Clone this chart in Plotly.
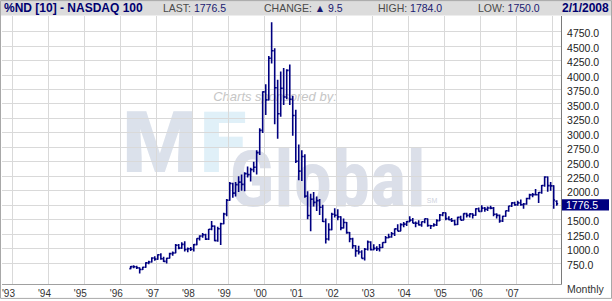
import plotly.graph_objects as go
import pandas as pd

# ---------------- data (monthly OHLC, Apr 1996 - Feb 2008) ----------------
opens = [
    655, 690, 688, 668, 640, 680, 755, 770, 840,                      # 1996 Apr-Dec
    820, 895, 825, 780, 835, 915, 925, 1060, 1010, 1075, 985, 1000,    # 1997
    990, 1070, 1175, 1220, 1240, 1165, 1335, 1390, 1140, 1345, 1430, 1600,  # 1998
    1836, 2127, 1960, 2106, 2150, 2110, 2296, 2280, 2365, 2407, 2660, 3044,  # 1999
    3708, 3570, 4290, 4420, 3780, 3330, 3770, 3620, 4080, 3580, 3300, 2510,  # 2000
    2340, 2593, 1908, 1573, 1855, 1799, 1830, 1716, 1469, 1168, 1329, 1596,  # 2001
    1577, 1550, 1359, 1452, 1277, 1170, 1051, 962, 942, 832, 989, 1116,      # 2002
    984, 1005, 1000, 1020, 1106, 1190, 1201, 1257, 1343, 1303, 1416, 1424,   # 2003
    1468, 1494, 1442, 1439, 1411, 1466, 1516, 1401, 1397, 1412, 1485, 1583,  # 2004
    1621, 1519, 1500, 1483, 1418, 1540, 1494, 1605, 1576, 1601, 1578, 1689,  # 2005
    1645, 1700, 1680, 1703, 1700, 1596, 1575, 1479, 1561, 1654, 1737, 1792,  # 2006
    1757, 1792, 1758, 1772, 1867, 1930, 1934, 1932, 1970, 2091, 2238, 2089,  # 2007
    2085, 1820,                                                       # 2008 Jan-Feb
]
highs = [
    700, 712, 705, 675, 690, 765, 790, 850, 870,
    905, 920, 860, 845, 930, 950, 1080, 1080, 1110, 1130, 1020, 1030,
    1080, 1180, 1230, 1270, 1260, 1340, 1480, 1400, 1380, 1450, 1620, 1860,
    2150, 2140, 2150, 2250, 2280, 2320, 2420, 2400, 2500, 2700, 3080, 3720,
    3840, 4330, 4910, 4460, 3920, 4060, 4120, 4100, 4180, 3640, 3400, 2800,
    2700, 2630, 1990, 1950, 1980, 1900, 1860, 1760, 1520, 1440, 1620, 1700,
    1680, 1560, 1520, 1460, 1290, 1190, 1060, 1050, 975, 1010, 1140, 1130,
    1075, 1040, 1080, 1110, 1220, 1260, 1290, 1350, 1420, 1440, 1460, 1480,
    1560, 1530, 1470, 1490, 1470, 1520, 1520, 1410, 1440, 1510, 1600, 1630,
    1625, 1560, 1530, 1500, 1550, 1570, 1610, 1620, 1610, 1610, 1700, 1710,
    1750, 1720, 1730, 1740, 1720, 1610, 1590, 1570, 1660, 1740, 1800, 1810,
    1830, 1850, 1790, 1880, 1950, 1960, 2030, 1980, 2100, 2250, 2245, 2150,
    2095, 1835,
]
lows = [
    645, 660, 650, 570, 630, 670, 730, 760, 790,
    810, 810, 770, 745, 830, 880, 920, 990, 1000, 950, 940, 960,
    950, 1060, 1140, 1190, 1150, 1150, 1320, 1130, 1120, 1065, 1420, 1560,
    1830, 1880, 1900, 1980, 2000, 1990, 2230, 2160, 2320, 2280, 2620, 3000,
    3310, 3560, 4200, 3150, 2900, 3280, 3480, 3580, 3480, 2950, 2480, 2180,
    2170, 1880, 1510, 1300, 1730, 1650, 1580, 1460, 1090, 1140, 1320, 1540,
    1490, 1320, 1350, 1260, 1110, 1000, 860, 900, 830, 795, 970, 970,
    975, 960, 950, 1010, 1100, 1180, 1190, 1220, 1300, 1300, 1370, 1390,
    1460, 1440, 1370, 1400, 1380, 1440, 1380, 1340, 1380, 1390, 1480, 1560,
    1490, 1490, 1460, 1400, 1410, 1490, 1490, 1540, 1540, 1520, 1570, 1640,
    1640, 1640, 1650, 1680, 1560, 1520, 1450, 1460, 1550, 1640, 1720, 1740,
    1740, 1740, 1690, 1760, 1850, 1890, 1920, 1790, 1950, 2070, 1985, 2000,
    1690, 1740,
]
closes = [
    690, 688, 670, 640, 680, 755, 770, 840, 820,
    895, 825, 780, 835, 915, 925, 1060, 1010, 1075, 985, 1000, 990,
    1070, 1175, 1220, 1240, 1165, 1335, 1390, 1140, 1345, 1430, 1600, 1836,
    2127, 1960, 2106, 2150, 2110, 2296, 2280, 2365, 2407, 2660, 3044, 3708,
    3570, 4290, 4420, 3780, 3330, 3770, 3620, 4080, 3580, 3300, 2510, 2340,
    2593, 1908, 1573, 1855, 1799, 1830, 1716, 1469, 1168, 1329, 1596, 1577,
    1550, 1359, 1452, 1277, 1170, 1051, 962, 942, 832, 989, 1116, 984,
    1005, 1000, 1020, 1106, 1190, 1201, 1257, 1343, 1303, 1416, 1424, 1468,
    1494, 1442, 1439, 1411, 1466, 1516, 1401, 1397, 1412, 1485, 1583, 1621,
    1519, 1500, 1483, 1418, 1540, 1494, 1605, 1576, 1601, 1578, 1689, 1645,
    1700, 1680, 1703, 1700, 1596, 1575, 1479, 1561, 1654, 1737, 1792, 1757,
    1792, 1758, 1772, 1867, 1930, 1934, 1932, 1970, 2091, 2238, 2089, 2085,
    1841, 1776.5,
]
months = pd.date_range("1996-04-01", periods=len(closes), freq="MS") + pd.Timedelta(days=14)

year_ticks = [f"{y}-01-01" for y in range(1993, 2009)]
year_labels = ["'%02d" % (y % 100) for y in range(1993, 2008)] + [""]
price_ticks = list(range(750, 5000, 250))
price_labels = ["" if v == 1750 else f"{v:.1f}" for v in price_ticks]

header_title = "%ND [10] - NASDAQ 100"
header_last = 1776.5
header_change = 9.5
header_high = 1784.0
header_low = 1750.0
header_date = "2/1/2008"

# ---------------- layout helpers ----------------
W, H = 612, 301
ML, MR, MT, MB = 2, 51, 16, 15
PW, PH = W - ML - MR, H - MT - MB
def px(x):
    return (x - ML) / PW
def py(y):
    return (H - MB - y) / PH

NAVY = "#000080"
FONT = "Liberation Sans, Arial, sans-serif"

fig = go.Figure()
fig.add_trace(go.Ohlc(
    x=months, open=opens, high=highs, low=lows, close=closes,
    increasing=dict(line=dict(color=NAVY, width=1.6)),
    decreasing=dict(line=dict(color=NAVY, width=1.6)),
    tickwidth=0.5, hoverinfo="skip", showlegend=False,
))

shapes = []
# header background
shapes.append(dict(type="rect", xref="paper", yref="paper", x0=px(0), x1=px(W), y0=py(15.5), y1=py(0),
                   fillcolor="#dcdcdc", line=dict(width=0), layer="above"))

def wm(cx, cy, text, size, color, family=FONT, w=60, h=30, weight="bold", style="normal"):
    return dict(type="rect", xref="paper", yref="paper",
                x0=px(cx - w / 2), x1=px(cx + w / 2), y0=py(cy + h / 2), y1=py(cy - h / 2),
                line=dict(width=0), fillcolor="rgba(0,0,0,0)", layer="below",
                label=dict(text=text, textposition="middle center", padding=0,
                           font=dict(family=family, size=size, color=color,
                                     weight=weight, style=style)))

# watermark logo (drawn below the grid)
shapes.append(wm(160, 137.5, "M", 86, "#dbe1eb", family="Roboto, Liberation Sans", weight=900))
shapes.append(wm(223, 137.5, "F", 86, "#e0f0f8", family="Roboto, Liberation Sans", weight=900))
shapes.append(wm(327.5, 175.5, "Global", 77, "#dbdfe9",
                 family="Roboto Condensed, Liberation Sans", weight="bold"))
shapes.append(wm(432, 201, "SM", 7, "#cfd4de", w=10, h=8, weight="normal"))
shapes.append(wm(275, 96, "Charts sponsored by:", 13, "#c6c6c6", w=120, h=14,
                 weight="normal", style="italic"))

# last value box
shapes.append(dict(type="rect", xref="paper", yref="paper", x0=px(562), x1=px(609), y0=py(212), y1=py(200.5),
                   fillcolor=NAVY, line=dict(width=0), layer="above"))
# outer frame
shapes.append(dict(type="rect", xref="paper", yref="paper", x0=px(0.5), x1=px(611.5), y0=py(300.5), y1=py(0.5),
                   fillcolor="rgba(0,0,0,0)", line=dict(width=1, color="#a8a8a8"), layer="above"))

LBL = "#4a4a4a"
VAL = "#1a1a70"
def hdr(x, text, size=10.5, color=LBL):
    return dict(xref="paper", yref="paper", x=px(x), y=py(7.5), xanchor="left", yanchor="middle",
                text=text, showarrow=False, font=dict(family=FONT, size=size, color=color))

annotations = [
    hdr(2, f"<b>{header_title}</b>", 12, "#000070"),
    hdr(161, f"LAST: <span style='color:{VAL}'>{header_last:.1f}</span>"),
    hdr(261.5, f"CHANGE: <span style='color:{VAL}'>\u25B2 {header_change:.1f}</span>"),
    hdr(376, f"HIGH: <span style='color:{VAL}'>{header_high:.1f}</span>"),
    hdr(475.5, f"LOW: <span style='color:{VAL}'>{header_low:.1f}</span>"),
    hdr(560, f"<b>{header_date}</b>", 12, "#000070"),
    dict(xref="paper", yref="paper", x=px(565), y=py(291.5), xanchor="left", yanchor="middle",
         text="Monthly", showarrow=False, font=dict(family=FONT, size=10.5, color="#333333")),
    dict(xref="paper", yref="paper", x=px(564), y=py(206.3), xanchor="left", yanchor="middle",
         text=f"{closes[-1]:.1f}", showarrow=False, font=dict(family=FONT, size=10.5, color="white")),
]

fig.update_layout(
    width=W, height=H,
    margin=dict(l=ML, r=MR, t=MT, b=MB, pad=0),
    paper_bgcolor="white", plot_bgcolor="white",
    font=dict(family=FONT, size=10.5, color="#222222"),
    showlegend=False,
    shapes=shapes, annotations=annotations,
    xaxis=dict(type="date", range=["1992-09-17", "2008-03-29"],
               tickmode="array", tickvals=year_ticks, ticktext=year_labels,
               showgrid=True, gridcolor="#d9d9d9", gridwidth=1,
               showline=True, linecolor="#a0a0a0", linewidth=1,
               ticks="", ticklabelshift=-4, tickfont=dict(size=10, color="#333333"),
               rangeslider=dict(visible=False), zeroline=False, fixedrange=True),
    yaxis=dict(side="right", range=[390, 5019],
               tickmode="array", tickvals=price_ticks, ticktext=price_labels,
               showgrid=True, gridcolor="#d9d9d9", gridwidth=1,
               showline=True, linecolor="#7a7a7a", linewidth=1,
               ticks="", ticklabelshift=2, ticklabelstandoff=3,
               tickfont=dict(size=10.5, color="#222222"),
               zeroline=False, fixedrange=True),
)

fig.write_html("out.html", config={"displayModeBar": False})
